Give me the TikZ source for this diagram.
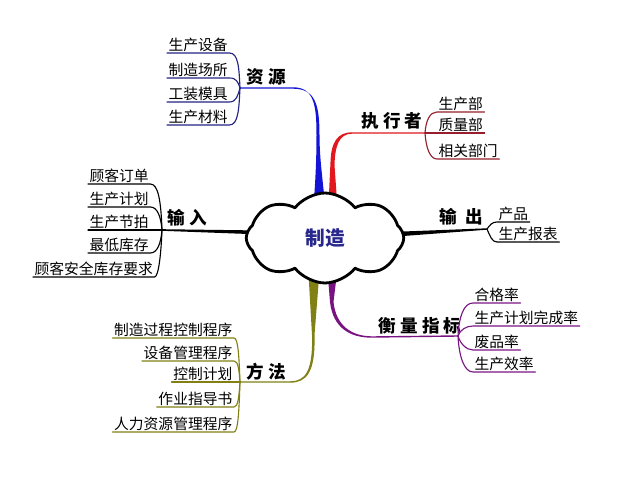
\documentclass[tikz,border=0pt]{standalone}
\usepackage{fontspec}
\newfontfamily\cjk{Noto Sans CJK SC}
\usetikzlibrary{calc, shapes.symbols}
\definecolor{resblue}{RGB}{20,20,215}
\definecolor{resnavy}{RGB}{35,35,130}
\definecolor{exered}{RGB}{225,25,30}
\definecolor{exedark}{RGB}{150,30,45}
\definecolor{meapurp}{RGB}{120,20,130}
\definecolor{metolive}{RGB}{128,128,20}
\definecolor{corenavy}{RGB}{40,40,140}
\tikzset{
	leaf/.style={font=\cjk\fontsize{10.5}{12}\selectfont, inner sep=1pt},
	head/.style={font=\cjk\bfseries\fontsize{12.5}{14}\selectfont, inner sep=1pt},
	twig/.style={line width=0.8pt},
}

\begin{document}
\begin{tikzpicture}[x=0.025cm, y=-0.025cm, line cap=round, line join=round]
\useasboundingbox (0,0) rectangle (640,480);
% junctions of the branches
\coordinate (resJ) at (240,88);
\coordinate (exeJ) at (425,133);
\coordinate (inpJ) at (162,230);
\coordinate (outJ) at (487,229);
\coordinate (meaJ) at (458,336);
\coordinate (metJ) at (240,382);

%========================
% main branches (tapered)
%========================
% resources
\fill[resblue] ($(resJ)+(0,-0.7)$) -- (293,87.3) .. controls (314,87.3) and (316.5,105) .. (316.5,135)
	.. controls (316.5,165) and (315,185) .. (313,215) -- (326,215)
	.. controls (323,180) and (319.5,160) .. (319.5,135) .. controls (319.5,104) and (315,88.7) .. (293,88.7)
	-- ($(resJ)+(0,0.7)$) -- cycle;
% executors
\fill[exered] ($(exeJ)+(0,-0.7)$) -- (352,132.3) .. controls (337,132.3) and (331,143) .. (330.5,162)
	-- (328,215) -- (338,215) -- (334.5,165) .. controls (335,146) and (339,133.7) .. (352,133.7)
	-- ($(exeJ)+(0,0.7)$) -- cycle;
% input
\fill ($(inpJ)+(0,-0.8)$) -- (262,230.5) -- (262,234.5) -- ($(inpJ)+(0,0.8)$) -- cycle;
% output
\fill (390,232) -- ($(outJ)+(0,-0.7)$) -- ($(outJ)+(0,0.7)$) -- (390,237) -- cycle;
% measures
\fill[meapurp] (327,265) -- (330,302) .. controls (333,328) and (350,337.7) .. (372,337.7)
	-- ($(meaJ)+(0,0.7)$) -- ($(meaJ)+(0,-0.7)$) -- (372,336.3)
	.. controls (352,336.3) and (336,326) .. (333.5,302) -- (338,265) -- cycle;
% methods
\fill[metolive] (308,265) -- (312,335) .. controls (313,372) and (305,381.3) .. (290,381.3)
	-- ($(metJ)+(0,-0.7)$) -- ($(metJ)+(0,0.7)$) -- (290,382.7)
	.. controls (307,382.7) and (315.5,372) .. (314.5,335) -- (320,265) -- cycle;

% centre cloud
\node[cloud, draw, fill=white, line width=2pt, cloud puffs=8, cloud puff arc=105, aspect=1.7,
	minimum width=112pt, minimum height=64pt, inner sep=0pt, text=corenavy,
	font=\cjk\bfseries\fontsize{14}{16}\selectfont] (core) at (325,238) {制造};

%========================
% resources (top left)
%========================
\node[head] (resL) at (266,77) {资 源};
\node[leaf, anchor=south west] (res1) at (167,53) {生产设备};
\node[leaf, anchor=south west] (res2) at (167,78) {制造场所};
\node[leaf, anchor=south west] (res3) at (167,102) {工装模具};
\node[leaf, anchor=south west] (res4) at (167,125) {生产材料};
\draw[twig, resnavy] (res1.south west) -- (res1.south east) .. controls +(9,0) and +(-1,-20) .. (resJ);
\draw[twig, resnavy] (res2.south west) -- (res2.south east) .. controls +(7,0) and +(-2,-6) .. (resJ);
\draw[twig, resnavy] (res3.south west) -- (res3.south east) .. controls +(7,0) and +(-2,7) .. (resJ);
\draw[twig, resnavy] (res4.south west) -- (res4.south east) .. controls +(9,0) and +(-1,20) .. (resJ);

%========================
% executors (top right)
%========================
\node[head] (exeL) at (392,121) {执 行 者};
\node[leaf, anchor=south west] (exe1) at (437,112) {生产部};
\node[leaf, anchor=south west] (exe2) at (437,133) {质量部};
\node[leaf, anchor=south west] (exe3) at (437,159) {相关部门};
\draw[twig, exedark] (exeJ) .. controls +(1,-13) and +(-7,0) .. (exe1.south west) -- (exe1.south east);
\draw[twig, exedark] (exeJ) -- (exe2.south west) -- (exe2.south east);
\draw[twig, exedark] (exeJ) .. controls +(1,15) and +(-7,0) .. (exe3.south west) -- (exe3.south east);

%========================
% input (left)
%========================
\node[head] (inpL) at (187,218) {输 入};
\node[leaf, anchor=south west] (inp1) at (88,184) {顾客订单};
\node[leaf, anchor=south west] (inp2) at (88,207) {生产计划};
\node[leaf, anchor=south west] (inp3) at (88,230) {生产节拍};
\node[leaf, anchor=south west] (inp4) at (88,253) {最低库存};
\node[leaf, anchor=south west] (inp5) at (33,277) {顾客安全库存要求};
\draw[twig] (inp1.south west) -- (inp1.south east) .. controls +(8,0) and +(-1,-28) .. (inpJ);
\draw[twig] (inp2.south west) -- (inp2.south east) .. controls +(7,0) and +(-1,-13) .. (inpJ);
\draw[twig] (inp3.south west) -- (inpJ);
\draw[twig] (inp4.south west) -- (inp4.south east) .. controls +(7,0) and +(-1,13) .. (inpJ);
\draw[twig] (inp5.south west) -- (inp5.south east) .. controls +(4,0) and +(-1,25) .. (inpJ);

%========================
% output (right)
%========================
\node[head] (outL) at (461,217) {输\ \ 出};
\node[leaf, anchor=south west] (out1) at (497,222) {产品};
\node[leaf, anchor=south west] (out2) at (497,242) {生产报表};
\draw[twig] (outJ) .. controls +(3,-4) and +(-5,0) .. (out1.south west) -- (out1.south east);
\draw[twig] (outJ) .. controls +(3,7) and +(-5,0) .. (out2.south west) -- (out2.south east);

%========================
% measures (bottom right)
%========================
\node[head] (meaL) at (420,326) {衡 量 指 标};
\node[leaf, anchor=south west] (mea1) at (473,303) {合格率};
\node[leaf, anchor=south west] (mea2) at (473,326) {生产计划完成率};
\node[leaf, anchor=south west] (mea3) at (473,350) {废品率};
\node[leaf, anchor=south west] (mea4) at (473,372) {生产效率};
\draw[twig, meapurp] (meaJ) .. controls +(1,-20) and +(-9,0) .. (mea1.south west) -- (mea1.south east);
\draw[twig, meapurp] (meaJ) .. controls +(2,-6) and +(-7,0) .. (mea2.south west) -- (mea2.south east);
\draw[twig, meapurp] (meaJ) .. controls +(2,7) and +(-7,0) .. (mea3.south west) -- (mea3.south east);
\draw[twig, meapurp] (meaJ) .. controls +(1,20) and +(-9,0) .. (mea4.south west) -- (mea4.south east);

%========================
% methods (bottom left)
%========================
\node[head] (metL) at (266,372) {方 法};
\node[leaf, anchor=south east] (met1) at (234,338) {制造过程控制程序};
\node[leaf, anchor=south east] (met2) at (234,361) {设备管理程序};
\node[leaf, anchor=south east] (met3) at (234,382) {控制计划};
\node[leaf, anchor=south east] (met4) at (234,407) {作业指导书};
\node[leaf, anchor=south east] (met5) at (234,432) {人力资源管理程序};
\draw[twig, metolive] (met1.south west) -- (met1.south east) .. controls +(4,0) and +(-1,-27) .. (metJ);
\draw[twig, metolive] (met2.south west) -- (met2.south east) .. controls +(4,0) and +(-1,-13) .. (metJ);
\draw[twig, metolive] (met3.south west) -- (metJ);
\draw[twig, metolive] (met4.south west) -- (met4.south east) .. controls +(4,0) and +(-1,15) .. (metJ);
\draw[twig, metolive] (met5.south west) -- (met5.south east) .. controls +(4,0) and +(-1,30) .. (metJ);
\end{tikzpicture}
\end{document}
